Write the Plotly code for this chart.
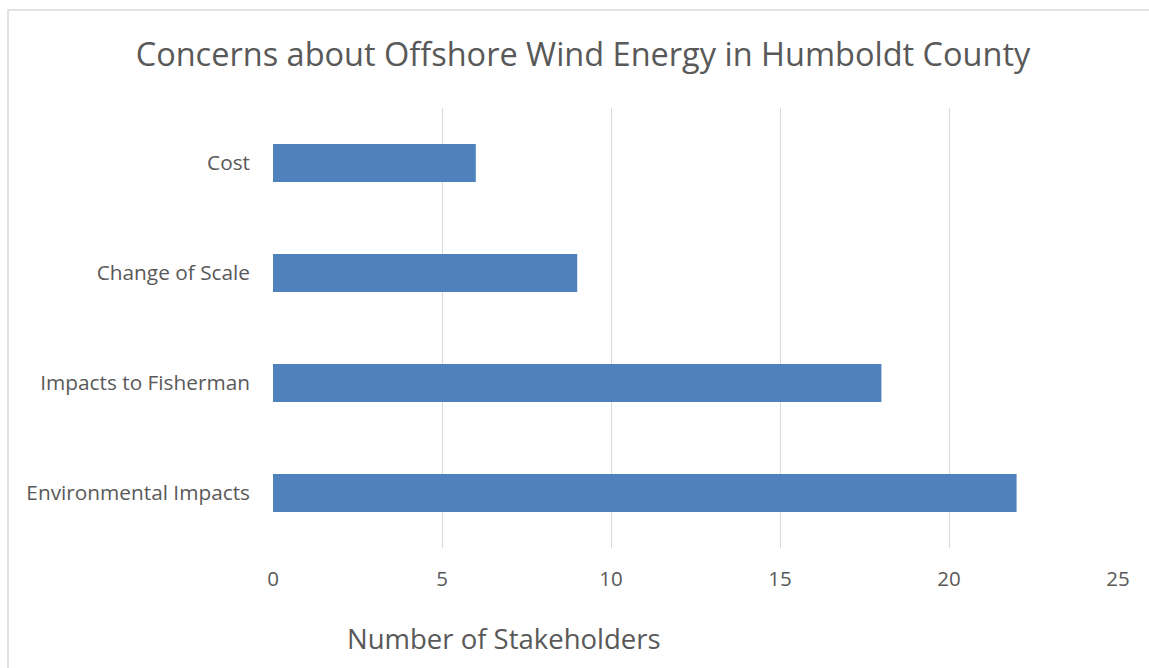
import plotly.graph_objects as go

categories = ["Environmental Impacts", "Impacts to Fisherman", "Change of Scale", "Cost"]
values = [22, 18, 9, 6]
x_ticks = [0, 5, 10, 15, 20, 25]

FONT = "Open Sans"
GREY = "#595959"

fig = go.Figure(go.Bar(
    x=values, y=categories, orientation="h",
    marker=dict(color="#4F81BD", line=dict(width=0)),
))

fig.update_layout(
    width=1149, height=668,
    margin=dict(l=273, r=31, t=108, b=120),
    paper_bgcolor="white", plot_bgcolor="white",
    bargap=0.655,
    showlegend=False,
    font=dict(family=FONT, color=GREY),
    title=dict(text="Concerns about Offshore Wind Energy in Humboldt County",
               x=583/1149, xanchor="center", y=1-55/668, yanchor="middle",
               font=dict(size=32.5, color=GREY, family=FONT)),
    xaxis=dict(range=[0, 25], tickvals=x_ticks, showgrid=True, gridcolor="#D9D9D9",
               gridwidth=1.3, zeroline=False, showline=False,
               tickfont=dict(size=20.5, color=GREY), ticklabelstandoff=16),
    yaxis=dict(showgrid=False, zeroline=False, showline=False,
               tickfont=dict(size=20.8, color=GREY), ticklabelstandoff=22),
    shapes=[dict(type="rect", xref="paper", yref="paper",
                 x0=(8-273)/845, x1=(1160-273)/845,
                 y0=(548-680)/440, y1=(548-10)/440,
                 line=dict(color="#D9D9D9", width=1.5), fillcolor="rgba(0,0,0,0)",
                 layer="below")],
    annotations=[dict(text="Number of Stakeholders", xref="paper", yref="paper",
                      x=(504-273)/845, y=(548-638)/440, xanchor="center", yanchor="middle",
                      showarrow=False, font=dict(size=27.5, color=GREY, family=FONT))],
)

fig.write_html("out.html")
